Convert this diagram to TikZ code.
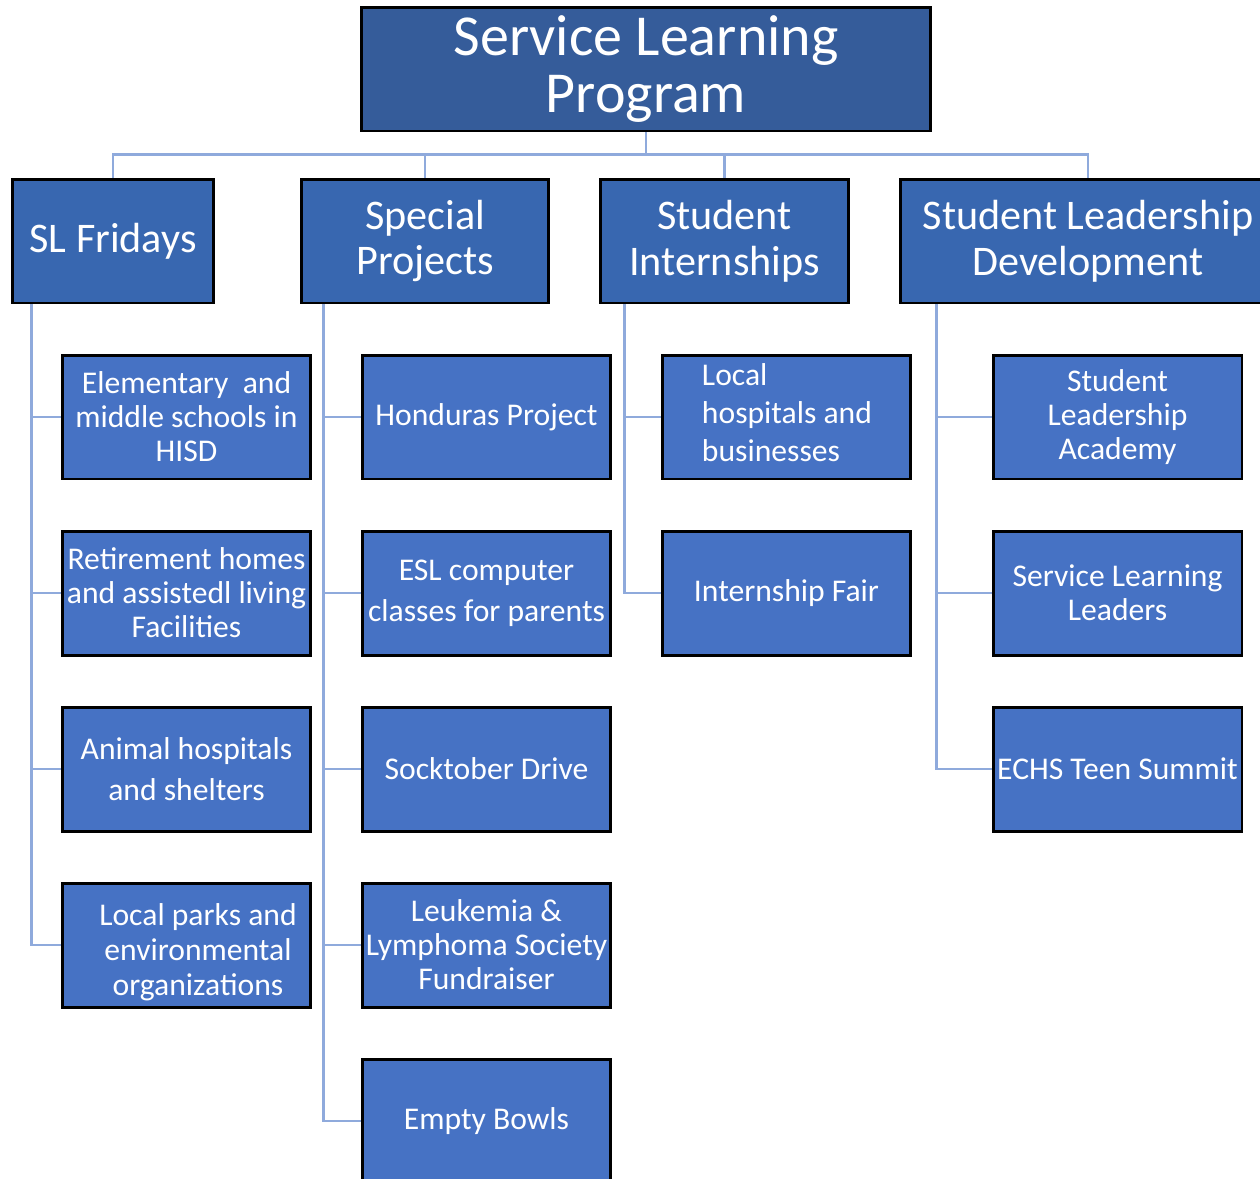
\documentclass[tikz,border=0pt]{standalone}
\usepackage{fontspec}
\setmainfont{Carlito}
\usetikzlibrary{positioning,calc,backgrounds}

\definecolor{rootblue}{RGB}{53,92,154}
\definecolor{headblue}{RGB}{56,103,176}
\definecolor{itemblue}{RGB}{70,114,196}
\definecolor{linkblue}{RGB}{143,170,220}

\tikzset{
  box/.style={draw=black, line width=1.7pt, text=white, align=center, inner sep=1pt, minimum height=2.48cm},
  rootbox/.style={box, fill=rootblue, minimum width=11.4cm, font=\fontsize{33}{32.5}\selectfont},
  headbox/.style={box, fill=headblue, font=\fontsize{24}{26}\selectfont},
  itembox/.style={box, fill=itemblue, minimum width=4.98cm, font=\fontsize{18}{19.4}\selectfont},
  wide/.style={font=\fontsize{18}{23.2}\selectfont},
  link/.style={draw=linkblue, line width=1.3pt}
}

\begin{document}
\begin{tikzpicture}[x=0.02cm, y=-0.02cm]
  \clip (0,0) rectangle (1260,1178);

  \node[rootbox] (root) at (646,69) {Service Learning\\Program};

  \node[headbox, minimum width=4.04cm] (fri) at (113,241) {SL Fridays};
  \node[headbox, minimum width=4.96cm] (spec) at (425,241) {Special\\Projects};
  \node[headbox, minimum width=4.98cm] (intern) at (724.5,241) {Student\\Internships};
  \node[headbox, minimum width=7.52cm] (lead) at (1088,241) {Student Leadership\\Development};

  % SL Fridays
  \node[itembox] (f1) at (186.5,417) {Elementary~ and\\middle schools in\\HISD};
  \node[itembox] (f2) at (186.5,593) {Retirement homes\\and assistedl living\\Facilities};
  \node[itembox, wide] (f3) at (186.5,769) {Animal hospitals\\and shelters};
  \node[itembox] (f4) at (186.5,945) {};
  \node[font=\fontsize{18}{20}\selectfont, text=white, align=center] at (198,952) {Local parks and\\environmental\\organizations};

  % Special Projects
  \node[itembox] (s1) at (486.5,417) {Honduras Project};
  \node[itembox, wide] (s2) at (486.5,593) {ESL computer\\classes for parents};
  \node[itembox] (s3) at (486.5,769) {Socktober Drive};
  \node[itembox] (s4) at (486.5,945) {Leukemia \&\\Lymphoma Society\\Fundraiser};
  \node[itembox] (s5) at (486.5,1121) {Empty Bowls};

  % Student Internships
  \node[itembox] (i1) at (786.5,417) {};
  \node[font=\fontsize{18}{21.6}\selectfont, text=white, align=left] at (787,413) {Local\\hospitals and\\businesses};
  \node[itembox] (i2) at (786.5,593) {Internship Fair};

  % Student Leadership Development
  \node[itembox] (l1) at (1117.5,417) {Student\\Leadership\\Academy};
  \node[itembox] (l2) at (1117.5,593) {Service Learning\\Leaders};
  \node[itembox] (l3) at (1117.5,769) {ECHS Teen Summit};

  \begin{scope}[on background layer]
    \foreach \h in {fri,spec,intern,lead}
      \draw[link] (root.south) -- ++(0,22) -| (\h.north);
    \coordinate (friL) at ($(fri.south west)+(21,0)$);
    \coordinate (specL) at ($(spec.south west)+(24,0)$);
    \coordinate (internL) at ($(intern.south west)+(26,0)$);
    \coordinate (leadL) at ($(lead.south west)+(38,0)$);
    \foreach \c in {f1,f2,f3,f4}
      \draw[link] (friL) |- (\c.west);
    \foreach \c in {s1,s2,s3,s4,s5}
      \draw[link] (specL) |- (\c.west);
    \foreach \c in {i1,i2}
      \draw[link] (internL) |- (\c.west);
    \foreach \c in {l1,l2,l3}
      \draw[link] (leadL) |- (\c.west);
  \end{scope}
\end{tikzpicture}
\end{document}
